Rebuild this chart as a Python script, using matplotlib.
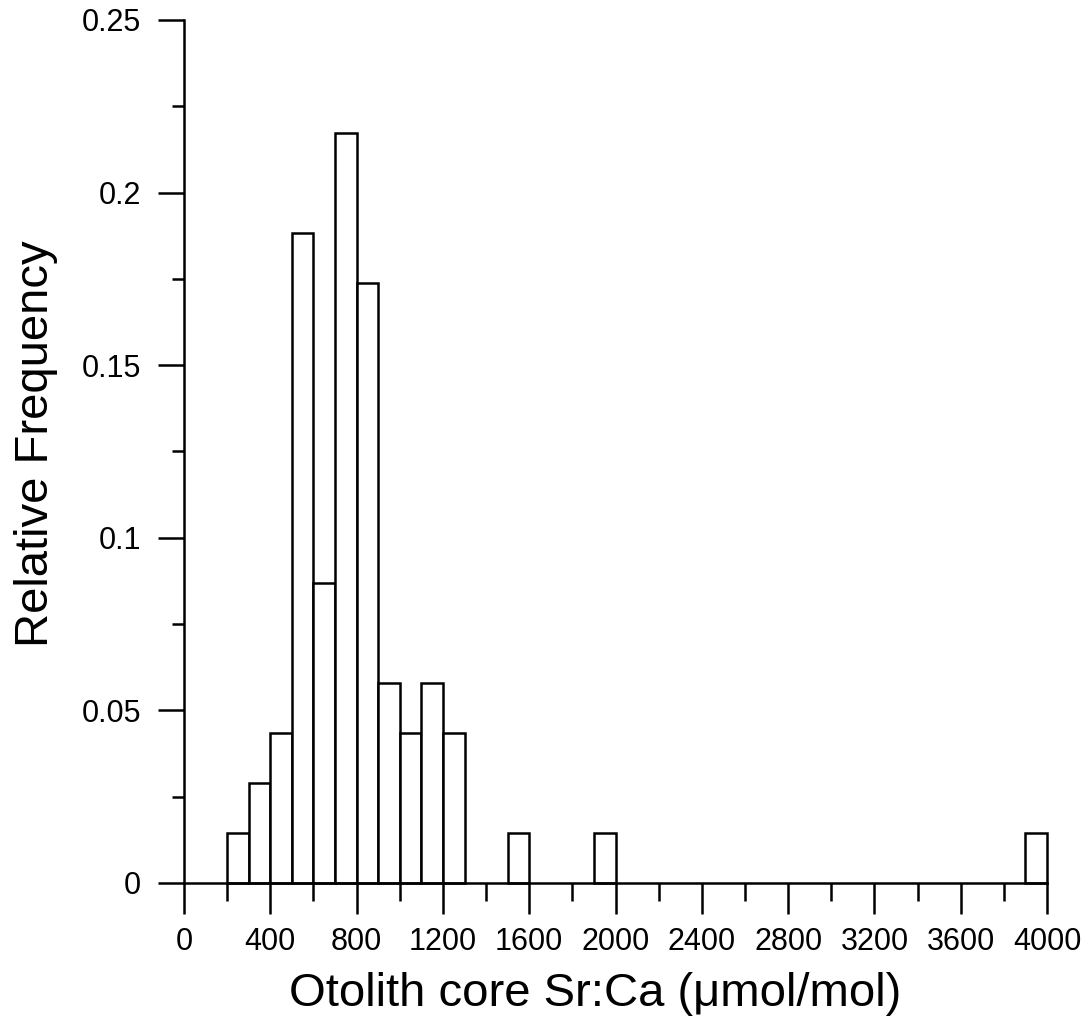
import matplotlib
matplotlib.use("Agg")
import matplotlib.pyplot as plt
import numpy as np
from matplotlib.ticker import MultipleLocator

# Histogram of otolith core Sr:Ca, 100 umol/mol bins, n = 69 fish
bin_left = [200, 300, 400, 500, 600, 700, 800, 900, 1000, 1100, 1200, 1500, 1900, 3900]
bin_count = [1, 2, 3, 13, 6, 15, 12, 4, 3, 4, 3, 1, 1, 1]
n_fish = 69
bin_width = 100

x_ticks = [0, 400, 800, 1200, 1600, 2000, 2400, 2800, 3200, 3600, 4000]
y_ticks = [0, 0.05, 0.1, 0.15, 0.2, 0.25]
y_tick_labels = ["0", "0.05", "0.1", "0.15", "0.2", "0.25"]

plt.rcParams.update({
    "font.family": ["Liberation Sans", "DejaVu Sans"],
    "axes.linewidth": 1.8,
})

fig = plt.figure(figsize=(10.91, 10.24), dpi=100)
ax = fig.add_axes([0.1687, 0.1377, 0.7910, 0.8428])

rel_freq = np.array(bin_count) / n_fish
bars = ax.bar(bin_left, rel_freq, width=bin_width, align="edge",
              facecolor="white", edgecolor="black", linewidth=1.8, zorder=2)
for bar in bars:
    bar.set_clip_on(False)

ax.set_xlim(0, 4000)
ax.set_ylim(0, 0.25)
ax.spines["top"].set_visible(False)
ax.spines["right"].set_visible(False)
ax.spines["bottom"].set_zorder(3)

ax.set_xticks(x_ticks)
ax.xaxis.set_minor_locator(MultipleLocator(200))
ax.set_yticks(y_ticks)
ax.set_yticklabels(y_tick_labels)
ax.yaxis.set_minor_locator(MultipleLocator(0.025))

ax.tick_params(axis="x", which="major", direction="out", length=22, width=1.8,
               labelsize=22, pad=10)
ax.tick_params(axis="x", which="minor", direction="out", length=13, width=1.8)
ax.tick_params(axis="y", which="major", direction="out", length=19, width=1.8,
               labelsize=22, pad=12)
ax.tick_params(axis="y", which="minor", direction="out", length=9, width=1.8)

ax.set_xlabel("Otolith core Sr:Ca (\u03bcmol/mol)", fontsize=34)
ax.set_ylabel("Relative Frequency", fontsize=34)
ax.xaxis.set_label_coords(0.476, -0.103)
ax.yaxis.set_label_coords(-0.146, 0.509)

fig.savefig("out.png", dpi=100)
